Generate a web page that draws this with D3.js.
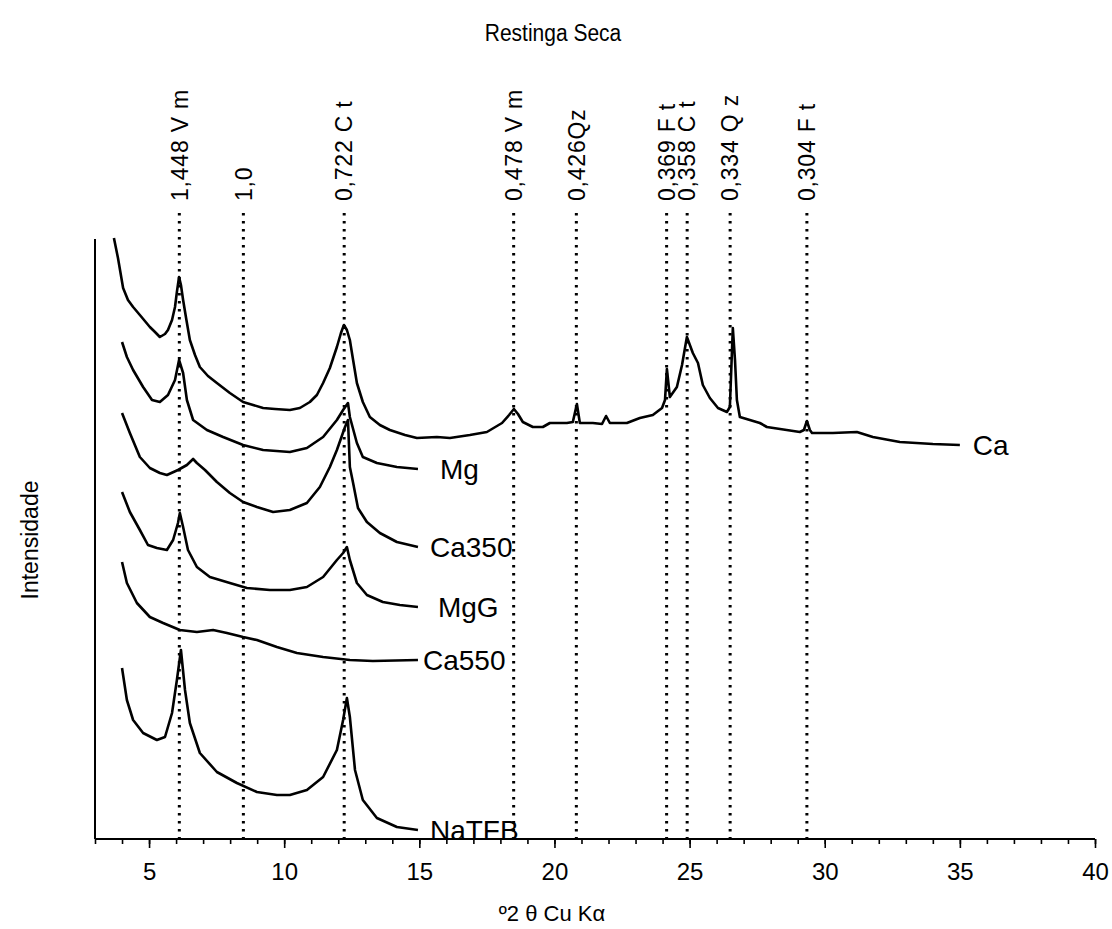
<!DOCTYPE html>
<html>
<head>
<meta charset="utf-8">
<script src="https://cdn.jsdelivr.net/npm/d3@7"></script>
<style>
  body { margin: 0; background: #fff; }
  text { font-family: "Liberation Sans", Arial, sans-serif; fill: #000; }
</style>
</head>
<body>
<div id="chart"></div>
<script>
// XRD patterns, Restinga Seca (2theta, intensity a.u.)
var caData = [[3.70,601],[3.85,581],[4.04,551],[4.22,539],[4.41,532],[4.66,524],[5.03,512],[5.22,507],[5.40,502],[5.59,505],[5.70,509],[5.85,519],[5.96,532],[6.03,547],[6.11,562],[6.18,554],[6.26,539],[6.37,521],[6.51,499],[6.70,484],[6.88,472],[7.18,463],[7.51,456],[7.99,446],[8.48,437],[8.85,434],[9.22,431],[9.66,430],[10.21,429],[10.58,431],[10.95,437],[11.21,444],[11.44,456],[11.69,471],[11.95,492],[12.10,506],[12.21,514],[12.32,509],[12.43,499],[12.55,479],[12.69,456],[12.91,437],[13.17,422],[13.54,414],[13.91,409],[14.47,404],[14.91,401],[15.65,402],[16.13,401],[16.87,404],[17.50,407],[18.06,416],[18.32,424],[18.50,430],[18.65,425],[18.83,417],[19.20,412],[19.57,412],[19.83,416],[20.46,416],[20.68,417],[20.83,435],[20.94,416],[21.42,416],[21.76,415],[21.91,423],[22.05,416],[22.68,416],[23.16,421],[23.64,424],[23.98,431],[24.09,439],[24.16,470],[24.27,442],[24.53,452],[24.72,474],[24.90,502],[25.12,486],[25.31,476],[25.49,454],[25.75,441],[26.05,431],[26.38,427],[26.49,432],[26.60,511],[26.68,479],[26.75,439],[26.86,422],[27.60,416],[27.86,412],[29.08,407],[29.23,409],[29.34,418],[29.45,409],[29.53,406],[30.30,406],[31.19,407],[31.78,402],[32.78,397],[34.00,395],[35.00,394]];

var mgData = [[4.00,497],[4.18,482],[4.41,469],[4.78,452],[5.11,439],[5.40,437],[5.70,444],[5.96,459],[6.11,479],[6.26,466],[6.40,439],[6.63,419],[7.14,409],[7.74,402],[8.48,394],[9.22,389],[10.21,387],[10.84,391],[11.44,402],[11.95,419],[12.18,429],[12.36,436],[12.43,422],[12.69,396],[12.91,382],[13.43,376],[14.17,372],[14.95,370]];

var ca350Data = [[4.00,426],[4.29,406],[4.66,382],[5.03,371],[5.40,366],[5.66,364],[6.07,369],[6.40,374],[6.63,380],[6.77,376],[7.07,369],[7.51,357],[7.99,346],[8.48,337],[8.99,332],[9.59,327],[10.21,329],[10.84,336],[11.32,352],[11.69,372],[11.95,389],[12.25,412],[12.36,419],[12.43,372],[12.55,356],[12.73,331],[13.06,317],[13.54,306],[14.17,297],[14.95,292]];

var mgGData = [[4.00,347],[4.29,327],[4.66,309],[4.96,294],[5.29,291],[5.66,289],[5.89,299],[6.07,316],[6.14,326],[6.26,312],[6.44,289],[6.77,272],[7.25,262],[7.99,256],[8.62,251],[9.47,249],[10.21,249],[10.84,252],[11.44,262],[11.95,279],[12.18,286],[12.32,292],[12.43,279],[12.69,256],[13.06,244],[13.65,237],[14.28,234],[14.95,232]];

var ca550Data = [[4.00,277],[4.18,256],[4.55,236],[5.03,222],[5.52,216],[6.14,209],[6.77,207],[7.37,209],[7.88,206],[8.48,202],[8.99,199],[9.73,192],[10.47,186],[11.44,182],[12.43,179],[13.28,178],[14.95,179]];

var naTFBData = [[4.00,171],[4.18,139],[4.41,119],[4.78,106],[5.29,99],[5.59,102],[5.85,126],[6.03,159],[6.18,189],[6.33,149],[6.51,116],[6.88,86],[7.51,67],[8.25,56],[8.99,47],[9.73,44],[10.21,44],[10.84,49],[11.44,62],[11.95,89],[12.18,119],[12.32,141],[12.43,122],[12.62,69],[12.91,39],[13.43,21],[14.17,12],[14.95,9]];

var seriesNames = ["Ca", "Mg", "Ca350", "MgG", "Ca550", "NaTFB"];
var seriesData = [caData, mgData, ca350Data, mgGData, ca550Data, naTFBData];

// reference peaks (2theta) and their d-spacing labels
var peakPos = [6.12, 8.49, 12.22, 18.49, 20.81, 24.15, 24.91, 26.50, 29.34];
var peakLabels = ["1,448 V m", "1,0", "0,722 C t", "0,478 V m", "0,426Qz", "0,369 F t", "0,358 C t", "0,334 Q z", "0,304 F t"];

var svgWidth = 1112;
var svgHeight = 929;

var svg = d3.select("#chart")
  .append("svg")
  .attr("width", svgWidth)
  .attr("height", svgHeight);

var x = d3.scaleLinear().domain([3, 40]).range([95, 1095]);
var y = d3.scaleLinear().domain([0, 600]).range([839, 239]);

// title
svg.append("text")
  .attr("transform", "translate(553, 41) scale(1, 1.15)")
  .attr("text-anchor", "middle")
  .style("font-size", "21px")
  .text("Restinga Seca");

// dotted reference lines
svg.selectAll(".peakline")
  .data(peakPos)
  .enter()
  .append("line")
  .attr("class", "peakline")
  .attr("x1", d => x(d))
  .attr("x2", d => x(d))
  .attr("y1", 213)
  .attr("y2", 839)
  .attr("stroke", "#000")
  .attr("stroke-width", 3)
  .attr("stroke-dasharray", "2.6 5.4");

svg.selectAll(".peaklabel")
  .data(peakPos)
  .enter()
  .append("text")
  .attr("class", "peaklabel")
  .attr("transform", d => `translate(${x(d)}, 201) rotate(-90)`)
  .attr("dy", "0.36em")
  .style("font-size", "23px")
  .style("letter-spacing", "0.8px")
  .text((d, i) => peakLabels[i]);

// x axis: minor then major ticks
var minorAxis = d3.axisBottom(x)
  .tickValues(d3.range(3, 41, 1))
  .tickSize(5)
  .tickFormat("");
var majorAxis = d3.axisBottom(x)
  .tickValues(d3.range(5, 41, 5))
  .tickSize(9)
  .tickPadding(15);

var gMinor = svg.append("g")
  .attr("transform", "translate(0, 839)")
  .call(minorAxis);
var gMajor = svg.append("g")
  .attr("transform", "translate(0, 839)")
  .call(majorAxis);

[gMinor, gMajor].forEach(function(g) {
  g.select(".domain").attr("stroke-width", 2).attr("d", "M95,0H1095");
  g.selectAll(".tick line").attr("stroke-width", 1.6);
});
gMajor.selectAll(".tick text")
  .style("font-size", "24px")
  .style("font-family", "Liberation Sans, Arial, sans-serif");

// y axis (plain line, no ticks)
svg.append("line")
  .attr("x1", 95).attr("x2", 95)
  .attr("y1", y(600)).attr("y2", 839)
  .attr("stroke", "#000")
  .attr("stroke-width", 2);

// axis titles
svg.append("text")
  .attr("x", 552)
  .attr("y", 921)
  .attr("text-anchor", "middle")
  .style("font-size", "22px")
  .text("º2 θ Cu Kα");

svg.append("text")
  .attr("transform", "translate(38, 540) rotate(-90)")
  .attr("text-anchor", "middle")
  .style("font-size", "23px")
  .text("Intensidade");

// diffractograms
var line = d3.line()
  .x(d => x(d[0]))
  .y(d => y(d[1]));

svg.selectAll(".pattern")
  .data(seriesData)
  .enter()
  .append("path")
  .attr("class", "pattern")
  .attr("d", line)
  .attr("fill", "none")
  .attr("stroke", "#000")
  .attr("stroke-width", 2.6)
  .attr("stroke-linejoin", "round");

// series labels at the end of each pattern
var labelGap = [13, 22, 12, 20, 5, 12];
svg.selectAll(".serieslabel")
  .data(seriesData)
  .enter()
  .append("text")
  .attr("class", "serieslabel")
  .attr("x", (d, i) => x(d[d.length - 1][0]) + labelGap[i])
  .attr("y", d => y(d[d.length - 1][1]))
  .attr("dy", "0.36em")
  .style("font-size", "28px")
  .text((d, i) => seriesNames[i]);
</script>
</body>
</html>
